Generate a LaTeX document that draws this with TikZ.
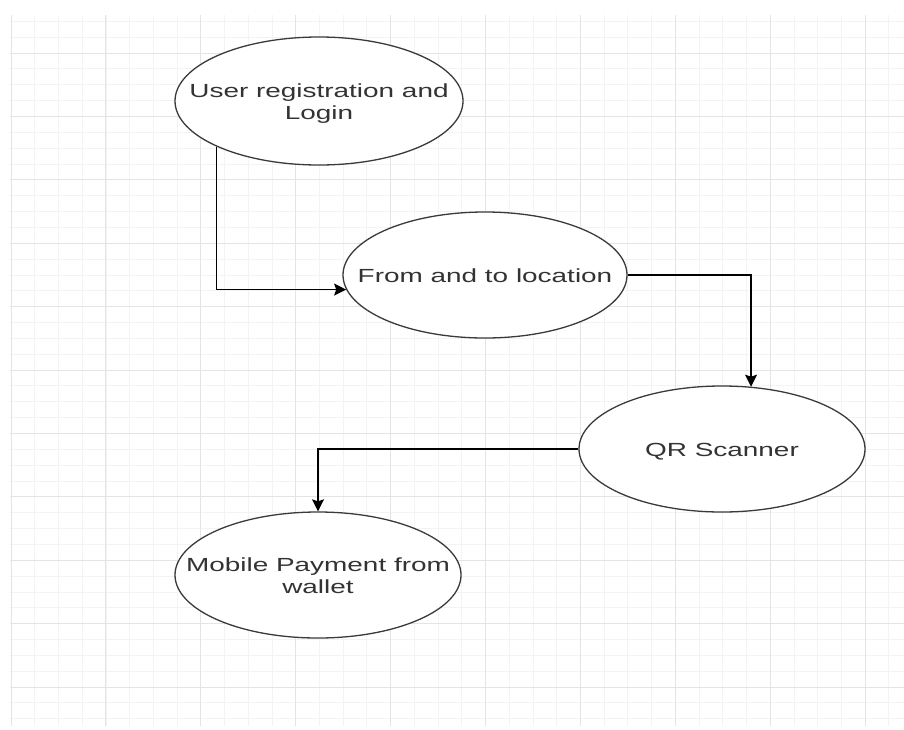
\documentclass[tikz,border=0pt]{standalone}
\usepackage{fontspec}
\setmainfont{Liberation Sans}
\usetikzlibrary{shapes.geometric,arrows.meta}
\definecolor{minorgrid}{HTML}{F3F3F3}
\definecolor{majorgrid}{HTML}{E4E4E4}
\definecolor{ovalline}{HTML}{3A3A3A}
\definecolor{ovaltxt}{HTML}{333333}
\newcommand{\ovaltext}[1]{\makebox[0pt][c]{\smash{\raisebox{-7.5pt}{\scalebox{1.47}[1]{\begin{tabular}{@{}c@{}}#1\end{tabular}}}}}}
\tikzset{
  mingrid/.style={draw=minorgrid, line width=0.8pt},
  majgrid/.style={draw=majorgrid, line width=1pt},
  oval/.style={ellipse, draw=ovalline, fill=white, line width=1.3pt, inner sep=0pt,
    text=ovaltxt, font=\fontsize{19}{22}\selectfont},
  flow/.style={draw=black, line width=1.4pt,
    -{Stealth[length=12pt,width=12pt,inset=2pt]}}
}
\begin{document}
\begin{tikzpicture}[x=1pt,y=-1pt]
\useasboundingbox (0,0) rectangle (904,729);
\fill[white] (0,0) rectangle (904,729);
\begin{scope}
  \clip (10,15) rectangle (904,726);
  \foreach \i in {0,...,38} {\draw[mingrid] ({11+23.725*\i},15) -- ++(0,711);}
  \foreach \i in {0,...,45} {\draw[mingrid] (10,{5.45+15.85*\i}) -- ++(894,0);}
  \foreach \i in {0,...,9} {\draw[majgrid] ({11+94.9*\i},15) -- ++(0,711);}
  \foreach \i in {0,...,11} {\draw[majgrid] (10,{-10.4+63.4*\i}) -- ++(894,0);}
\end{scope}

\node[oval, minimum width=288pt, minimum height=128pt] (n1) at (319,101)
  {\ovaltext{User registration and\\Login}};
\node[oval, minimum width=284pt, minimum height=126pt] (n2) at (485,275)
  {\ovaltext{From and to location}};
\node[oval, minimum width=286pt, minimum height=126pt] (n3) at (722,449)
  {\ovaltext{QR Scanner}};
\node[oval, minimum width=286pt, minimum height=126pt] (n4) at (318,575)
  {\ovaltext{Mobile Payment from\\wallet}};

\draw[flow] (n1.204.7) |- (n2.186.6);
\draw[flow] (n2.east) -| (n3.65.6);
\draw[flow] (n3.west) -| (n4.north);
\end{tikzpicture}
\end{document}
